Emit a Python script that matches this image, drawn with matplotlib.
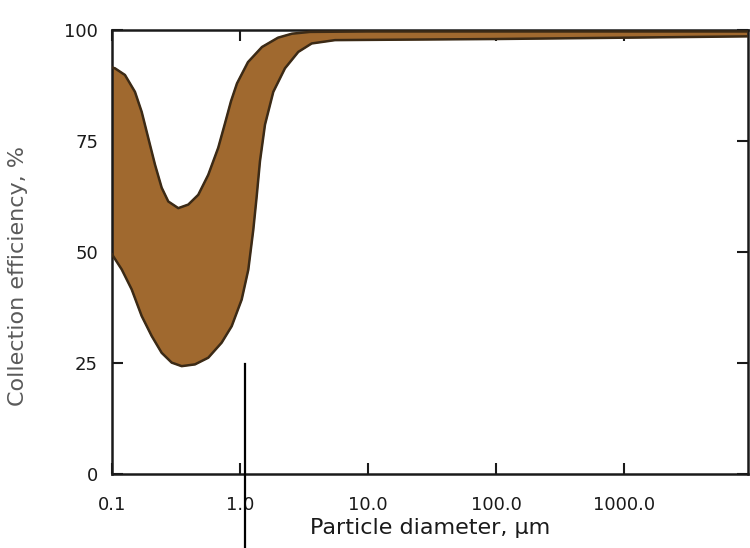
import numpy as np
import matplotlib
matplotlib.use("Agg")
import matplotlib.pyplot as plt
from matplotlib.lines import Line2D

# ============================================================
# DATA
# ============================================================
upper_d = [0.1, 0.1055, 0.1263, 0.1512, 0.1706, 0.1921, 0.2168, 0.2445, 0.2754,
           0.3296, 0.3945, 0.4721, 0.565, 0.6761, 0.7636, 0.851, 0.9475, 1.1548,
           1.4855, 1.9815, 2.5483, 3.5237, 10.0, 100.0, 1000.0, 9300.0]
upper_eff = [91.6, 91.4, 89.9, 86.1, 81.6, 75.7, 69.7, 64.5, 61.4,
             59.9, 60.7, 62.9, 67.4, 73.5, 79.0, 84.0, 88.0, 92.8,
             96.2, 98.3, 99.2, 99.6, 99.7, 99.7, 99.7, 99.7]

lower_d = [0.1, 0.1191, 0.1425, 0.1706, 0.2042, 0.2445, 0.2927, 0.3504, 0.4451,
           0.5653, 0.7194, 0.8615, 1.031, 1.161, 1.2703, 1.350, 1.433, 1.568,
           1.821, 2.246, 2.855, 3.633, 5.524, 9.475, 100.0, 1000.0, 9300.0]
lower_eff = [49.5, 46.1, 41.6, 35.6, 31.1, 27.3, 25.1, 24.3, 24.7,
             26.2, 29.6, 33.3, 39.3, 46.0, 55.0, 62.5, 70.5, 78.7,
             86.1, 91.4, 95.1, 97.0, 97.75, 97.8, 98.0, 98.3, 98.6]

xticks = [0.1, 1.0, 10.0, 100.0, 1000.0]
xtick_labels = ["0.1", "1.0", "10.0", "100.0", "1000.0"]
yticks = [0, 25, 50, 75, 100]

# ============================================================
# PLOT
# ============================================================
plt.rcParams['font.family'] = ['DejaVu Sans']

fig = plt.figure(figsize=(7.5, 5.48), dpi=100)
ax = fig.add_axes([0.1493, 0.135, 0.848, 0.81])

fill_col = "#a0692f"
edge_col = "#3b2a16"

# closed band: upper curve left->right, lower curve back right->left
poly_x = list(upper_d) + list(lower_d[::-1])
poly_y = list(upper_eff) + list(lower_eff[::-1])
ax.fill(poly_x, poly_y, color=fill_col, zorder=2)
ax.plot(upper_d, upper_eff, color=edge_col, lw=1.8, zorder=3,
        solid_joinstyle="round")
ax.plot(lower_d, lower_eff, color=edge_col, lw=1.8, zorder=3,
        solid_joinstyle="round")

ax.set_xscale("log")
ax.set_xlim(0.1, 9300)
ax.set_ylim(0, 100)

ax.set_xticks(xticks)
ax.set_xticklabels(xtick_labels)
ax.minorticks_off()
ax.set_yticks(yticks)

ax.tick_params(direction="in", length=8, width=1.5, labelsize=13,
               top=True, right=True, colors="#1a1a1a")
ax.tick_params(axis="x", pad=16)
ax.tick_params(axis="y", pad=10)

for sp in ax.spines.values():
    sp.set_linewidth(1.8)
    sp.set_color("#1a1a1a")

ax.set_xlabel("Particle diameter, \u03bcm", fontsize=16, color="#1a1a1a", labelpad=3)
ax.set_ylabel("Collection efficiency, %", fontsize=16, color="#5a5a5a")
ax.yaxis.set_label_coords(-0.132, 0.446)

# stray vertical mark in the original image
fig.add_artist(Line2D([245/750, 245/750], [0, (548-364)/548],
                      transform=fig.transFigure, color="black", lw=1.6))

fig.savefig("out.png", dpi=100)
